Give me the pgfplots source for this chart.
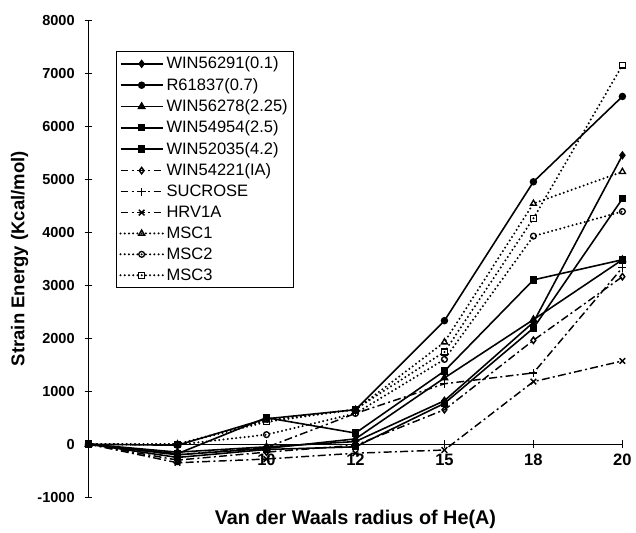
\documentclass[border=0pt]{standalone}
\usepackage{fontspec}
\setmainfont{Liberation Sans}
\usepackage{pgfplots}
\pgfplotsset{compat=1.18}

\begin{document}
\begin{tikzpicture}
\begin{axis}[
    scale only axis,
    width=404pt, height=361pt,
    xmin=0, xmax=6,
    ymin=-1000, ymax=8000,
    axis x line=middle,
    axis y line=left,
    axis line style={-, black, line width=0.9pt},
    xtick={0,1,2,3,4,5,6},
    xticklabels={0,5,10,12,15,18,20},
    ytick={-1000,0,1000,2000,3000,4000,5000,6000,7000,8000},
    yticklabels={-1000,0,1000,2000,3000,4000,5000,6000,7000,8000},
    tick align=center,
    major tick length=6pt,
    tick style={black, line width=0.7pt},
    yticklabel style={font=\fontsize{11}{13}\selectfont\bfseries, xshift=-4pt},
    xticklabel style={font=\fontsize{12.5}{14}\selectfont\bfseries, yshift=-1pt},
    xlabel={Van der Waals radius of He(A)},
    ylabel={Strain Energy (Kcal/mol)},
    every axis x label/.style={at={(axis description cs:0.5,0)}, anchor=north, yshift=-6pt,
        font=\fontsize{15}{17}\selectfont\bfseries},
    every axis y label/.style={at={(axis description cs:0,0.5)}, anchor=south, rotate=90,
        yshift=42pt, font=\fontsize{14}{16}\selectfont\bfseries},
    clip=false,
    legend style={at={(axis description cs:0.052,0.935)}, anchor=north west,
        draw=black, line width=0.7pt, font=\fontsize{12.5}{14}\selectfont,
        inner sep=2pt, row sep=1.6pt, cells={anchor=west}},
    legend image code/.code={\draw[mark repeat=2,mark phase=2,#1] plot coordinates {(0pt,0pt) (16pt,0pt) (32pt,0pt)};},
]
% solid series
\addplot[black, line width=1.2pt, mark=diamond*, mark size=2.4pt] coordinates {(0,0) (1,-150) (2,-50) (3,50) (4,820) (5,2300) (6,5450)};
\addlegendentry{WIN56291(0.1)}
\addplot[black, line width=1.2pt, mark=*, mark size=2.2pt] coordinates {(0,0) (1,-20) (2,480) (3,650) (4,2330) (5,4950) (6,6560)};
\addlegendentry{R61837(0.7)}
\addplot[black, line width=1.2pt, mark=triangle*, mark size=2.6pt] coordinates {(0,0) (1,-200) (2,-80) (3,100) (4,1250) (5,2350) (6,3480)};
\addlegendentry{WIN56278(2.25)}
\addplot[black, line width=1.2pt, mark=square*, mark size=2.1pt] coordinates {(0,0) (1,-250) (2,-100) (3,-50) (4,770) (5,2190) (6,4630)};
\addlegendentry{WIN54954(2.5)}
\addplot[black, line width=1.2pt, mark=square*, mark size=2.3pt] coordinates {(0,0) (1,-180) (2,500) (3,210) (4,1380) (5,3100) (6,3480)};
\addlegendentry{WIN52035(4.2)}
% dash-dot series
\addplot[black, line width=1.1pt, dash pattern=on 6pt off 2.5pt on 1.5pt off 2.5pt, mark=diamond, mark size=2.4pt, mark options={solid, fill=white}] coordinates {(0,0) (1,-300) (2,-150) (3,-20) (4,650) (5,1960) (6,3160)};
\addlegendentry{WIN54221(IA)}
\addplot[black, line width=1.1pt, dash pattern=on 6pt off 2.5pt on 1.5pt off 2.5pt, mark=+, mark size=3pt, mark options={solid}] coordinates {(0,0) (1,-200) (2,-60) (3,580) (4,1140) (5,1345) (6,3330)};
\addlegendentry{SUCROSE}
\addplot[black, line width=1.1pt, dash pattern=on 6pt off 2.5pt on 1.5pt off 2.5pt, mark=x, mark size=3pt, mark options={solid}] coordinates {(0,0) (1,-350) (2,-280) (3,-170) (4,-110) (5,1180) (6,1570)};
\addlegendentry{HRV1A}
% dotted series
\addplot[black, line width=1.7pt, line cap=round, dash pattern=on 0pt off 3.2pt, mark=triangle, mark size=2.6pt, mark options={solid, line width=1pt, fill=white}] coordinates {(0,0) (1,0) (2,450) (3,650) (4,1925) (5,4540) (6,5140)};
\addlegendentry{MSC1}
\addplot[black, line width=1.7pt, line cap=round, dash pattern=on 0pt off 3.2pt, mark=o, mark size=2.2pt, mark options={solid, line width=1pt, fill=white}] coordinates {(0,0) (1,-10) (2,180) (3,580) (4,1600) (5,3925) (6,4390)};
\addlegendentry{MSC2}
\addplot[black, line width=1.7pt, line cap=round, dash pattern=on 0pt off 3.2pt, mark=square, mark size=2.2pt, mark options={solid, line width=1pt, fill=white}] coordinates {(0,0) (1,0) (2,420) (3,660) (4,1740) (5,4260) (6,7150)};
\addlegendentry{MSC3}
\end{axis}
\path (current bounding box.north) ++(0,8pt);
\path (current bounding box.west) ++(-5pt,0);
\end{tikzpicture}
\end{document}
